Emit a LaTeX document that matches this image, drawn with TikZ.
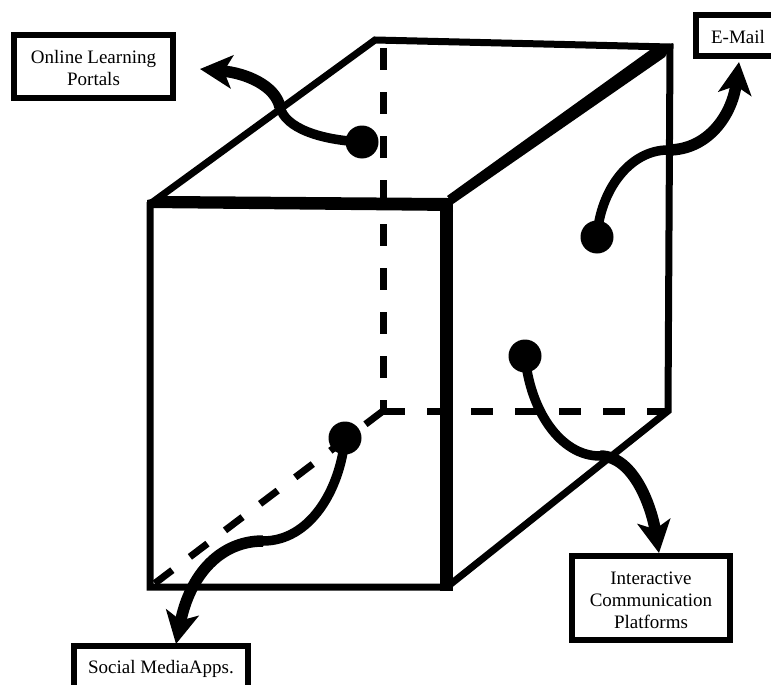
\documentclass[tikz,border=0pt]{standalone}
\usepackage{fontspec}
\setmainfont{Liberation Serif}
\usetikzlibrary{arrows.meta}
\tikzset{
  labelbox/.style={draw, line width=6pt, align=center, inner sep=0pt, outer sep=0pt, fill=white,
    font=\fontsize{19}{22}\selectfont},
  spot/.style={circle, fill=black, inner sep=0pt, minimum size=33pt},
  edge/.style={line width=7pt, line join=miter},
  hidden/.style={line width=7pt, dash pattern=on 22pt off 22pt},
  heavy/.style={fill=black},
  wire/.style={line width=9.5pt},
  wire end/.style={line width=11.5pt, -{Stealth[length=32pt, width=33pt, inset=8pt]}},
}
\begin{document}
\begin{tikzpicture}[x=1pt, y=-1pt]
  \path[use as bounding box] (0,0) rectangle (771,685);
  \clip (0,0) rectangle (771,685);

  % Define corners
  \coordinate (ftl) at (150,204);
  \coordinate (ftr) at (447,204);
  \coordinate (fbr) at (447,587);
  \coordinate (fbl) at (150,587);
  \coordinate (btl) at (375,40);
  \coordinate (btr) at (670,47);
  \coordinate (bbr) at (668,411);
  \coordinate (bbl) at (383,411);

  % Hidden edges
  \draw[hidden] (383,48) -- (bbl);
  \draw[hidden] (bbl) -- (bbr);
  \draw[hidden] (bbl) -- (fbl);

  % Outer edges
  \draw[edge] (fbr) -- (fbl) -- (ftl) -- (btl) -- (btr) -- (bbr) -- cycle;

  % Heavy edges
  \fill[heavy] (147,200) -- (165,196) -- (447,198) -- (453,211) -- (147,208) -- cycle;
  \fill[heavy] (447,196) -- (650,50) -- (673,43) -- (665,57) -- (453,204) -- cycle;
  \fill[heavy] (440,198) rectangle (453,591);

  % Define nodes
  \node[labelbox, minimum width=159pt, minimum height=63pt] (online) at (93.5,66.5) {\rule{0pt}{17pt}Online Learning\\Portals};
  \node[labelbox, minimum width=84pt, minimum height=41pt] (email) at (738,35.5) {\rule{0pt}{17pt}E-Mail};
  \node[labelbox, minimum width=158pt, minimum height=84pt] (platforms) at (651,598) {\rule{0pt}{17pt}Interactive\\Communication\\Platforms};
  \node[labelbox, minimum width=174pt, anchor=north, inner ysep=13pt, text height=14pt, text depth=30pt] (social) at (161,646) {Social MediaApps.};

  \node[spot] (spot_online) at (362,142) {};
  \node[spot] (spot_email) at (597,237) {};
  \node[spot] (spot_platforms) at (525,356) {};
  \node[spot] (spot_social) at (345,438) {};

  \coordinate (tip_online) at (200,69);
  \coordinate (tip_email) at (739,62);
  \coordinate (tip_platforms) at (659,553);
  \coordinate (tip_social) at (176,644);

  \coordinate (mid_online) at (280,107);
  \coordinate (mid_email) at (668,150);
  \coordinate (mid_platforms) at (600,456);
  \coordinate (mid_social) at (263,541);

  % Connect nodes
  \draw[wire] (spot_online.center) .. controls (320,140) and (285,128) .. (mid_online);
  \draw[wire end] (mid_online) .. controls (275,85) and (245,73) .. (tip_online);

  \draw[wire] (spot_email.center) .. controls (600,190) and (630,150) .. (mid_email);
  \draw[wire end] (mid_email) .. controls (708,150) and (732,115) .. (tip_email);

  \draw[wire] (spot_platforms.center) .. controls (530,410) and (560,456) .. (mid_platforms);
  \draw[wire end] (mid_platforms) .. controls (635,456) and (652,510) .. (tip_platforms);

  \draw[wire] (spot_social.center) .. controls (340,490) and (310,541) .. (mid_social);
  \draw[wire end] (mid_social) .. controls (220,541) and (190,575) .. (tip_social);

\end{tikzpicture}
\end{document}
